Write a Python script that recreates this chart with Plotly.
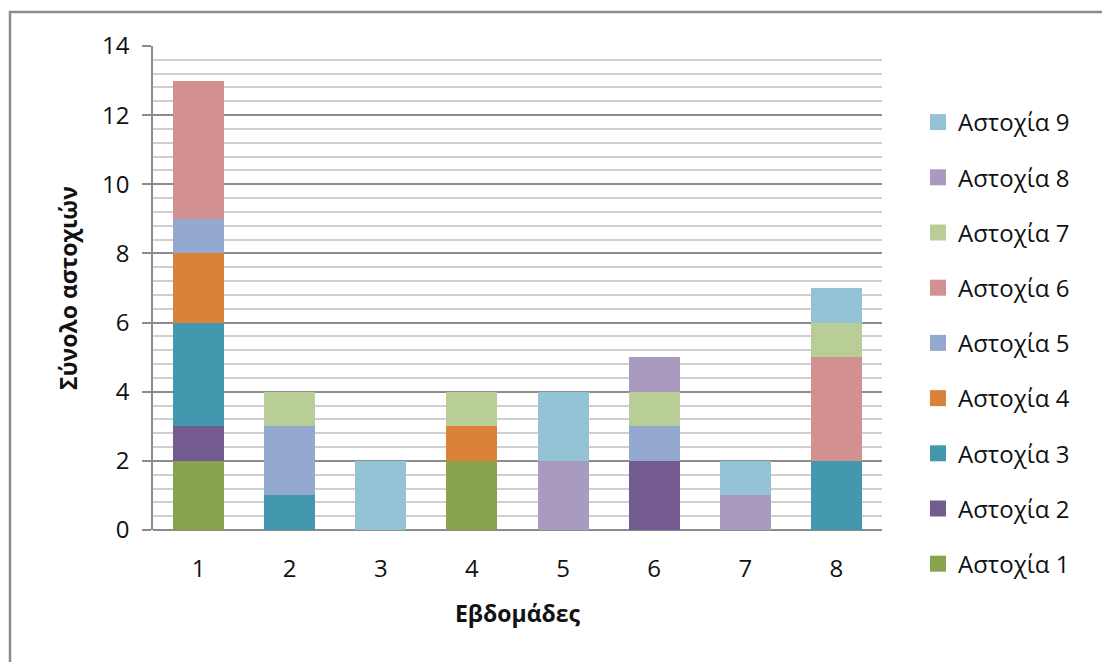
import plotly.graph_objects as go

# Weekly failure counts per failure type (stacked)
weeks = ["1", "2", "3", "4", "5", "6", "7", "8"]
series_names = ["Αστοχία 1", "Αστοχία 2", "Αστοχία 3", "Αστοχία 4", "Αστοχία 5",
                "Αστοχία 6", "Αστοχία 7", "Αστοχία 8", "Αστοχία 9"]
astoxia_1 = [2, 0, 0, 2, 0, 0, 0, 0]
astoxia_2 = [1, 0, 0, 0, 0, 2, 0, 0]
astoxia_3 = [3, 1, 0, 0, 0, 0, 0, 2]
astoxia_4 = [2, 0, 0, 1, 0, 0, 0, 0]
astoxia_5 = [1, 2, 0, 0, 0, 1, 0, 0]
astoxia_6 = [4, 0, 0, 0, 0, 0, 0, 3]
astoxia_7 = [0, 1, 0, 1, 0, 1, 0, 1]
astoxia_8 = [0, 0, 0, 0, 2, 1, 1, 0]
astoxia_9 = [0, 0, 2, 0, 2, 0, 1, 1]
series_values = [astoxia_1, astoxia_2, astoxia_3, astoxia_4, astoxia_5,
                 astoxia_6, astoxia_7, astoxia_8, astoxia_9]
colors = ["#88A34C", "#735A8F", "#4398AE", "#DB823A", "#93A9D0",
          "#D29190", "#B9CE96", "#A99ABF", "#93C3D5"]

W, H = 1102, 662
ML, MR, MT, MB = 153, 220, 46, 132

FONT = "Open Sans"

fig = go.Figure()
n = len(series_names)
for i, (name, vals, col) in enumerate(zip(series_names, series_values, colors)):
    fig.add_trace(go.Bar(
        x=weeks, y=vals, name=name, showlegend=False,
        marker=dict(color=col, line=dict(width=0)),
    ))
# legend entries with larger square swatches, listed top-down from the last series
for i, (name, col) in enumerate(zip(series_names, colors)):
    fig.add_trace(go.Scatter(
        x=[None], y=[None], name=name, mode="markers", legendgroup=name,
        legendrank=n - i, hoverinfo="skip",
        marker=dict(symbol="square", size=17, color=col,
                    line=dict(color="white", width=0)),
    ))

# outer chart frame, expressed in paper coordinates of the plot area
pw, ph = W - ML - MR, H - MT - MB
def px_x(x):
    return (x - ML) / pw
def px_y(y):
    return (H - MB - y) / ph

fig.add_shape(type="rect", xref="paper", yref="paper",
              x0=px_x(10), x1=px_x(W + 5), y0=px_y(H + 5), y1=px_y(12),
              line=dict(color="#8C8C8C", width=2.5), fillcolor="rgba(0,0,0,0)",
              layer="below")

fig.update_layout(
    width=W, height=H,
    margin=dict(l=ML, r=MR, t=MT, b=MB),
    barmode="stack", bargap=0.44,
    paper_bgcolor="white", plot_bgcolor="white",
    font=dict(family=FONT, color="#111111"),
    showlegend=True,
    legend=dict(
        x=px_x(918), xanchor="left", y=px_y(100), yanchor="top",
        traceorder="grouped", tracegroupgap=21, maxheight=620,
        font=dict(size=24, family=FONT, color="#111111"),
        itemwidth=30, bgcolor="rgba(0,0,0,0)",
    ),
    xaxis=dict(
        title=dict(text="<b>Εβδομάδες</b>", font=dict(size=23, family=FONT), standoff=22),
        tickfont=dict(size=24, family=FONT), ticks="", ticklabelstandoff=22,
        showline=False, showgrid=False,
    ),
    yaxis=dict(
        title=dict(text="<b>Σύνολο αστοχιών</b>", font=dict(size=23, family=FONT), standoff=18),
        range=[0, 14], dtick=2, tick0=0,
        tickfont=dict(size=24, family=FONT),
        ticks="outside", ticklen=9, tickcolor="#8C8C8C", tickwidth=1.5,
        showline=True, linecolor="#8C8C8C", linewidth=1.5,
        showgrid=True, gridcolor="#8C8C8C", gridwidth=1.5,
        minor=dict(dtick=0.4, tick0=0, showgrid=True, gridcolor="#CFCFCF", gridwidth=1.5),
        zeroline=True, zerolinecolor="#8C8C8C", zerolinewidth=1.5,
        ticklabelstandoff=8,
    ),
)

fig.write_html("out.html")
